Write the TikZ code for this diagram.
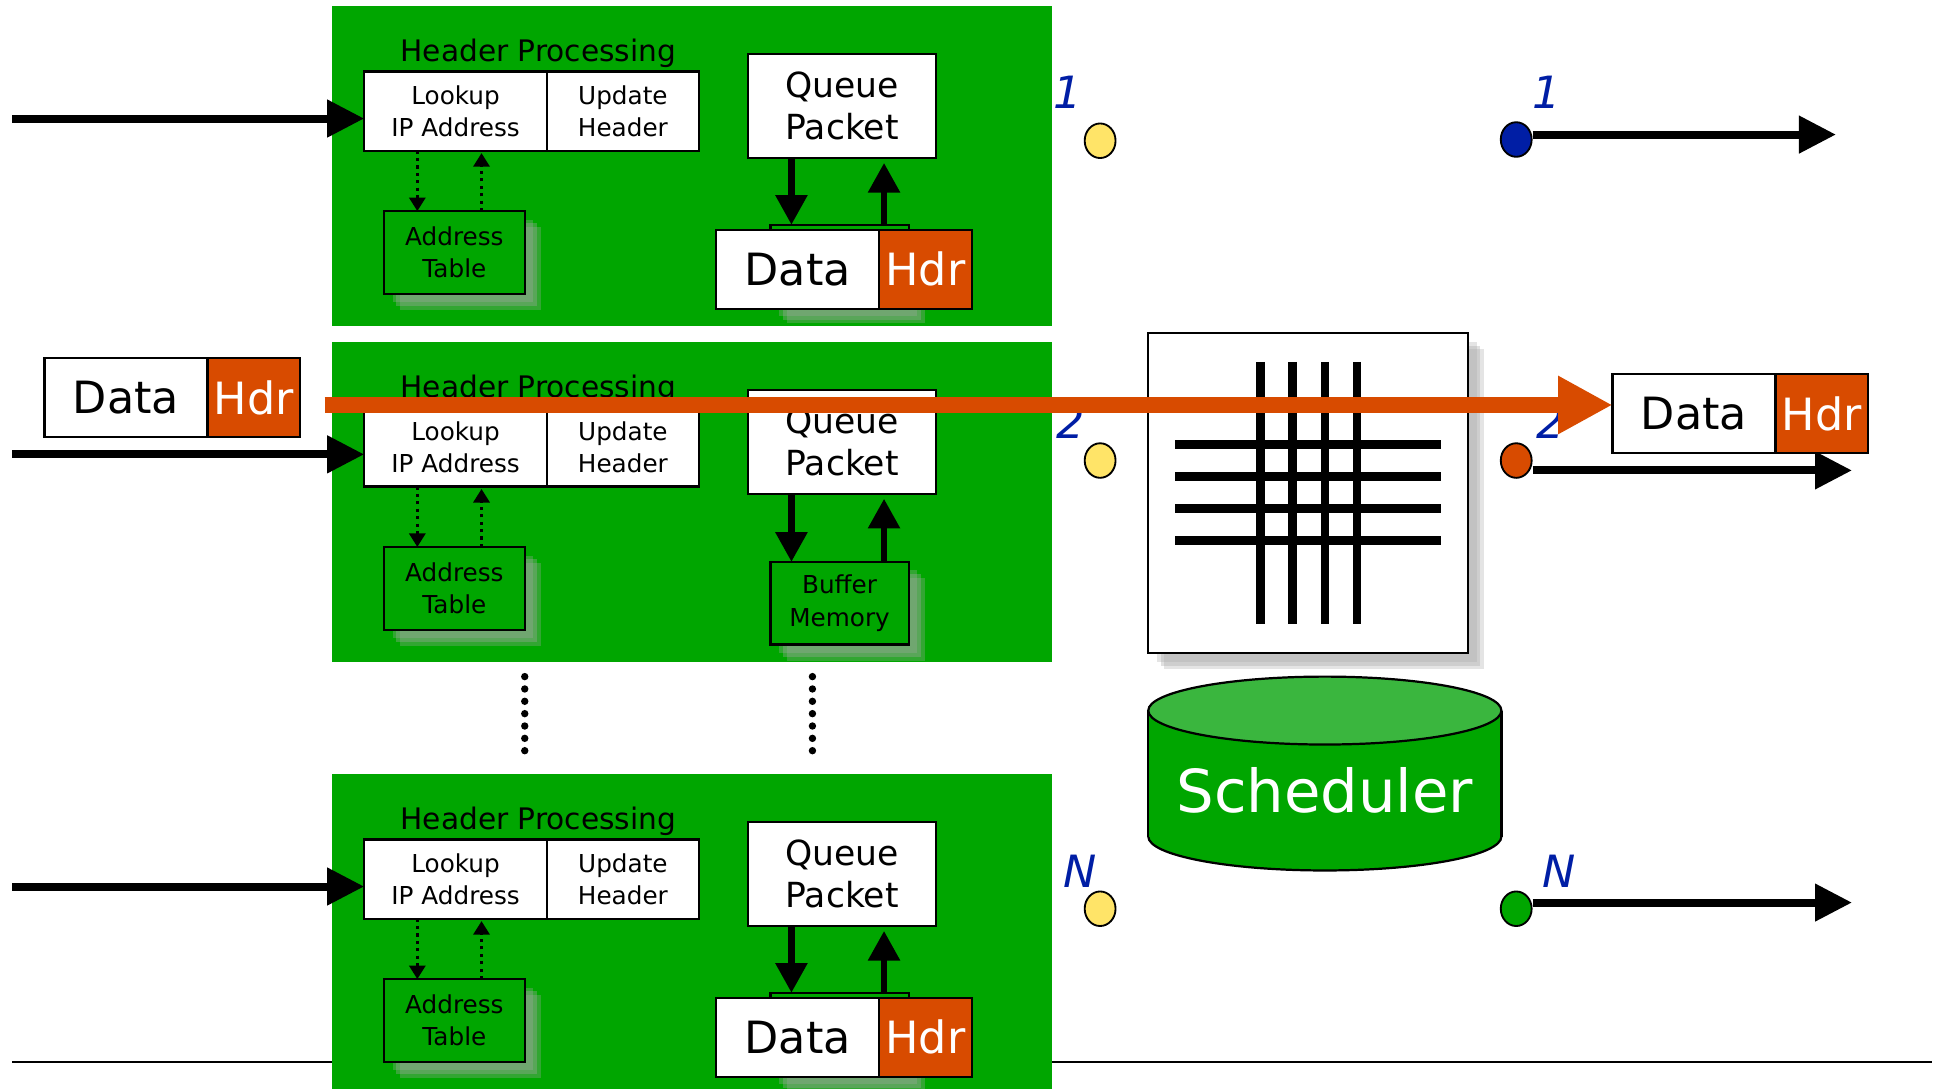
\documentclass[tikz,border=0pt]{standalone}
\usepackage{fontspec}
\setmainfont{DejaVu Sans}
\usetikzlibrary{arrows.meta,shapes.geometric,shadows}

\definecolor{panelgreen}{RGB}{0,166,0}
\definecolor{pktorange}{RGB}{216,75,0}
\definecolor{portblue}{RGB}{0,30,165}
\definecolor{portyellow}{RGB}{255,228,104}
\definecolor{schedtop}{RGB}{58,182,62}

\tikzset{
  softshadow/.style={
    drop shadow={shadow xshift=7pt,shadow yshift=-7pt,fill=black!35,opacity=.3},
    drop shadow={shadow xshift=10pt,shadow yshift=-10pt,fill=black!35,opacity=.35},
    drop shadow={shadow xshift=13pt,shadow yshift=-13pt,fill=black!35,opacity=.3}},
  whitebox/.style={draw,fill=white,line width=1.8pt,inner sep=0pt,outer sep=0pt,align=center},
  greenbox/.style={whitebox,fill=panelgreen,softshadow},
  lookbox/.style={whitebox,minimum height=64pt,font=\fontsize{20}{26}\selectfont},
  memobox/.style={greenbox,font=\fontsize{20}{26}\selectfont},
  queuebox/.style={whitebox,minimum width=152pt,minimum height=84pt,font=\fontsize{28}{34}\selectfont},
  databox/.style={whitebox,minimum width=132pt,minimum height=64pt,font=\fontsize{36}{40}\selectfont},
  hdrbox/.style={whitebox,fill=pktorange,text=white,minimum width=75pt,minimum height=64pt,font=\fontsize{36}{40}\selectfont},
  hdtitle/.style={anchor=base,inner sep=0pt,font=\fontsize{24}{28}\selectfont},
  port/.style={ellipse,draw,line width=1.5pt,minimum width=25pt,minimum height=28pt,inner sep=0pt},
  portlabel/.style={anchor=base,inner sep=0pt,text=portblue,font=\fontsize{36}{40}\selectfont\itshape},
  inarrow/.style={line width=6.5pt,-{Triangle[length=30pt,width=29pt]}},
  qarrow/.style={line width=5pt,-{Triangle[length=24pt,width=25pt]}},
  dotarrow/.style={line width=2.5pt,dash pattern=on 2.5pt off 3.5pt,-{Triangle[length=11pt,width=13pt]}},
  flowarrow/.style={draw=pktorange,line width=12.5pt,-{Triangle[length=44pt,width=44pt]}},
  xbarline/.style={line width=7pt},
  gapdots/.style={line width=6pt,line cap=round,dash pattern=on 0pt off 10pt},
  schedline/.style={line width=1.8pt}
}

\begin{document}
\begin{tikzpicture}[x=1pt,y=-1pt]
\path[use as bounding box] (0,0) rectangle (1568,882);
\draw[line width=1.5pt] (10,860) -- (1565,860);
% port 1
\fill[panelgreen] (269,5) rectangle (852,264);
\node[hdtitle] (hdA) at (436,50) {Header Processing};
\node[lookbox,minimum width=148pt] (lookA) at (369,90) {Lookup\\IP Address};
\node[lookbox,minimum width=123pt] (updA) at (504.5,90) {Update\\Header};
\node[memobox,minimum width=114pt,minimum height=67pt] (addrA) at (368,204.5) {Address\\Table};
\draw[dotarrow] ([xshift=-31pt]lookA.south) -- ([xshift=-31pt]lookA.south |- addrA.north);
\draw[dotarrow] ([xshift=22pt]addrA.north) -- ([xshift=22pt,yshift=-2pt]addrA.north |- lookA.south);
\node[queuebox] (queA) at (682,86) {Queue\\Packet};
\node[memobox,minimum width=112pt,minimum height=67pt] (bufA) at (680,215.5) {};
\node[databox] (dataA) at (646,218) {Data};
\node[hdrbox] (hdrA) at (749.5,218) {Hdr};
\draw[qarrow] ([xshift=-41pt]queA.south) -- ([xshift=-41pt]queA.south |- bufA.north);
\draw[qarrow] ([xshift=34pt]queA.south |- bufA.north) -- ([xshift=34pt,yshift=-4pt]queA.south);
\coordinate (inA) at (10,96);
\draw[inarrow] (inA) -- (inA -| lookA.west);
\node[port,fill=portyellow] (inportA) at (891,114) {};
\node[portlabel] (inlabA) at (865,88) {1};
\node[port,fill=portblue] (outportA) at (1228,113) {};
\node[portlabel] (outlabA) at (1253,88) {1};
\coordinate (outendA) at (1487,109);
\draw[inarrow] (outportA.east |- outendA) -- (outendA);
% port 2
\fill[panelgreen] (269,277) rectangle (852,536);
\node[hdtitle] (hdB) at (436,322) {Header Processing};
\node[lookbox,minimum width=148pt] (lookB) at (369,362) {Lookup\\IP Address};
\node[lookbox,minimum width=123pt] (updB) at (504.5,362) {Update\\Header};
\node[memobox,minimum width=114pt,minimum height=67pt] (addrB) at (368,476.5) {Address\\Table};
\draw[dotarrow] ([xshift=-31pt]lookB.south) -- ([xshift=-31pt]lookB.south |- addrB.north);
\draw[dotarrow] ([xshift=22pt]addrB.north) -- ([xshift=22pt,yshift=-2pt]addrB.north |- lookB.south);
\node[queuebox] (queB) at (682,358) {Queue\\Packet};
\node[memobox,minimum width=112pt,minimum height=67pt] (bufB) at (680,488.5) {Buffer\\Memory};
\draw[qarrow] ([xshift=-41pt]queB.south) -- ([xshift=-41pt]queB.south |- bufB.north);
\draw[qarrow] ([xshift=34pt]queB.south |- bufB.north) -- ([xshift=34pt,yshift=-4pt]queB.south);
\coordinate (inB) at (10,368);
\draw[inarrow] (inB) -- (inB -| lookB.west);
\node[port,fill=portyellow] (inportB) at (891,373) {};
\node[portlabel] (inlabB) at (867,355) {2};
\node[port,fill=pktorange] (outportB) at (1228,373) {};
\node[portlabel] (outlabB) at (1256,355) {2};
\coordinate (outendB) at (1500,381);
\draw[inarrow] (outportB.east |- outendB) -- (outendB);
% port N
\fill[panelgreen] (269,627) rectangle (852,882);
\node[hdtitle] (hdC) at (436,672) {Header Processing};
\node[lookbox,minimum width=148pt] (lookC) at (369,712) {Lookup\\IP Address};
\node[lookbox,minimum width=123pt] (updC) at (504.5,712) {Update\\Header};
\node[memobox,minimum width=114pt,minimum height=67pt] (addrC) at (368,826.5) {Address\\Table};
\draw[dotarrow] ([xshift=-31pt]lookC.south) -- ([xshift=-31pt]lookC.south |- addrC.north);
\draw[dotarrow] ([xshift=22pt]addrC.north) -- ([xshift=22pt,yshift=-2pt]addrC.north |- lookC.south);
\node[queuebox] (queC) at (682,708) {Queue\\Packet};
\node[memobox,minimum width=112pt,minimum height=67pt] (bufC) at (680,837.5) {};
\node[databox] (dataC) at (646,840) {Data};
\node[hdrbox] (hdrC) at (749.5,840) {Hdr};
\draw[qarrow] ([xshift=-41pt]queC.south) -- ([xshift=-41pt]queC.south |- bufC.north);
\draw[qarrow] ([xshift=34pt]queC.south |- bufC.north) -- ([xshift=34pt,yshift=-4pt]queC.south);
\coordinate (inC) at (10,718);
\draw[inarrow] (inC) -- (inC -| lookC.west);
\node[port,fill=portyellow] (inportC) at (891,736) {};
\node[portlabel] (inlabC) at (875,719) {N};
\node[port,fill=panelgreen] (outportC) at (1228,736) {};
\node[portlabel] (outlabC) at (1263,719) {N};
\coordinate (outendC) at (1500,731);
\draw[inarrow] (outportC.east |- outendC) -- (outendC);
% ports in between
\draw[gapdots] (425,548) -- (425,618);
\draw[gapdots] (658,548) -- (658,618);
% crossbar
\node[draw,fill=white,line width=1.5pt,minimum width=259pt,minimum height=259pt,softshadow] (xbar) at (1059.5,399.5) {};
\draw[xbarline] (1021,293) -- (1021,505);
\draw[xbarline] (1047,293) -- (1047,505);
\draw[xbarline] (1073,293) -- (1073,505);
\draw[xbarline] (1099,293) -- (1099,505);
\draw[xbarline] (952,360) -- (1167,360);
\draw[xbarline] (952,386) -- (1167,386);
\draw[xbarline] (952,412) -- (1167,412);
\draw[xbarline] (952,438) -- (1167,438);
% scheduler
\draw[schedline,fill=panelgreen] (1073,677.5) ellipse[x radius=143,y radius=27.5];
\fill[panelgreen] (930,575.5) rectangle (1216,677.5);
\draw[schedline] (930,575.5) -- (930,677.5) (1216,575.5) -- (1216,677.5);
\draw[schedline,fill=schedtop] (1073,575.5) ellipse[x radius=143,y radius=27.5];
\node[anchor=base,inner sep=0pt,text=white,font=\fontsize{48}{52}\selectfont] (sched) at (1073,658) {Scheduler};
% packet in and out
\node[databox] (indata) at (102,322) {Data};
\node[hdrbox] (inhdr) at (205.5,322) {Hdr};
\node[databox] (outdata) at (1372,335) {Data};
\node[hdrbox] (outhdr) at (1475.5,335) {Hdr};
\coordinate (flowstart) at (263,328);
\draw[flowarrow] (flowstart) -- (flowstart -| outdata.west);
\end{tikzpicture}
\end{document}
